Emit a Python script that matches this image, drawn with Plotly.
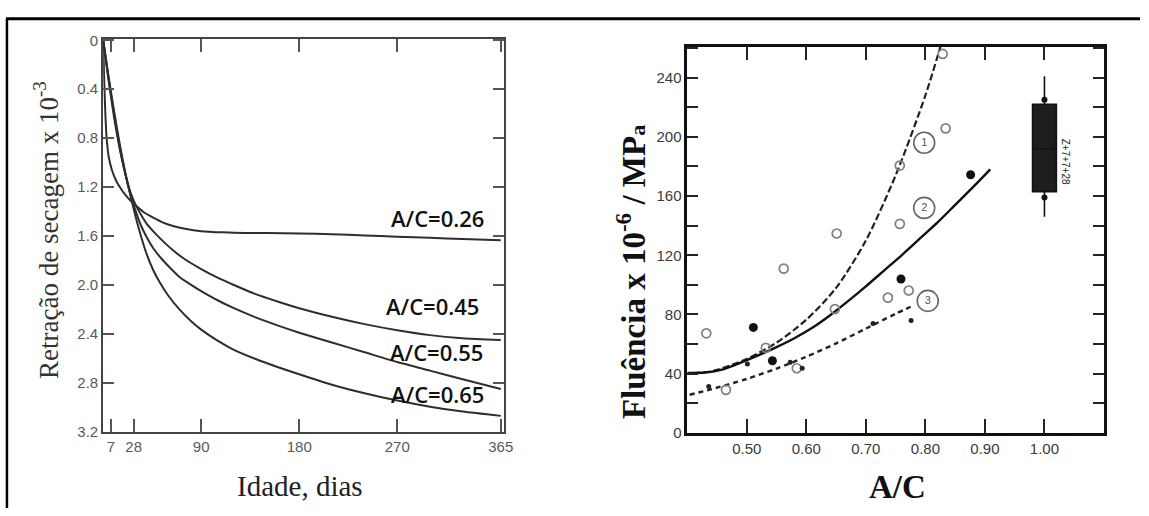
import plotly.graph_objects as go

W, H = 1149, 516

# ---- Left panel: drying shrinkage (x 10^-3) versus age (days) ----
dias_026 = [0, 1, 2, 3, 5, 8, 12, 16, 20, 25, 30, 38, 46, 55, 65, 75, 90, 110, 130, 150, 180, 210, 240, 270, 300, 330, 365]
retr_026 = [0, 0.35, 0.6, 0.78, 0.95, 1.06, 1.15, 1.21, 1.26, 1.31, 1.35, 1.41, 1.45, 1.49, 1.52, 1.54, 1.56,
            1.57, 1.575, 1.575, 1.58, 1.585, 1.595, 1.605, 1.615, 1.625, 1.635]

dias_045 = [0, 5, 10, 15, 20, 25, 30, 35, 40, 48, 57, 66, 75, 90, 105, 120, 140, 160, 180, 210, 240, 270, 300, 330, 365]
retr_045 = [0, 0.33, 0.63, 0.88, 1.08, 1.24, 1.35, 1.43, 1.5, 1.58, 1.66, 1.73, 1.79, 1.87, 1.94, 2.0, 2.075,
            2.135, 2.19, 2.26, 2.32, 2.37, 2.41, 2.435, 2.45]

dias_055 = [0, 5, 10, 15, 20, 25, 30, 35, 40, 46, 54, 62, 70, 80, 90, 105, 120, 140, 160, 180, 210, 240, 270, 300, 330, 365]
retr_055 = [0, 0.32, 0.6, 0.86, 1.08, 1.26, 1.4, 1.52, 1.61, 1.7, 1.79, 1.865, 1.935, 1.995, 2.05, 2.125, 2.19,
            2.265, 2.33, 2.39, 2.47, 2.55, 2.63, 2.7, 2.77, 2.85]

dias_065 = [0, 5, 10, 15, 20, 25, 30, 35, 40, 46, 52, 60, 70, 80, 90, 105, 120, 140, 160, 180, 210, 240, 270, 300, 330, 365]
retr_065 = [0, 0.3, 0.58, 0.84, 1.07, 1.27, 1.45, 1.61, 1.75, 1.88, 1.98, 2.09, 2.2, 2.29, 2.365, 2.455, 2.53,
            2.605, 2.67, 2.73, 2.815, 2.885, 2.945, 2.995, 3.035, 3.07]

rotulos_ac = ["A/C=0.26", "A/C=0.45", "A/C=0.55", "A/C=0.65"]
rotulo_dia = [307, 302, 306, 307]
rotulo_retr = [1.45, 2.17, 2.55, 2.89]

ticks_dias = [7, 28, 90, 180, 270, 365]
ticks_retr = [0, 0.4, 0.8, 1.2, 1.6, 2.0, 2.4, 2.8, 3.2]
ticks_retr_txt = ["0", "0.4", "0.8", "1.2", "1.6", "2.0", "2.4", "2.8", "3.2"]

# ---- Right panel: specific creep versus water/cement ratio ----
ac_tracejada = [0.41, 0.43, 0.45, 0.50, 0.55, 0.60, 0.65, 0.70, 0.75, 0.80, 0.826]
fl_tracejada = [40.5, 41, 42.6, 50, 61, 76.5, 98, 130, 174, 228, 262]

ac_continua = [0.40, 0.43, 0.46, 0.49, 0.52, 0.55, 0.58, 0.61, 0.64, 0.67, 0.70, 0.73, 0.76, 0.79, 0.82, 0.85, 0.88, 0.909]
fl_continua = [40.5, 40.8, 43, 47.5, 52.5, 58, 64, 71, 79.5, 89, 99, 109.5, 120, 131, 142, 154, 166, 178]

ac_pontilhada = [0.404, 0.44, 0.50, 0.55, 0.60, 0.65, 0.70, 0.75, 0.782]
fl_pontilhada = [25.8, 29.5, 36.5, 43.5, 51.5, 60.5, 70.5, 80.5, 86.5]

ac_abertos = [0.432, 0.562, 0.651, 0.648, 0.757, 0.757, 0.829, 0.834, 0.737, 0.772, 0.532, 0.465, 0.584]
fl_abertos = [67.3, 111, 134.7, 83.7, 141.2, 180.6, 256, 205.7, 91.4, 96.2, 57.5, 29.1, 43.7]

ac_cheios = [0.511, 0.543, 0.759, 0.876]
fl_cheios = [71.3, 48.8, 104, 174.4]

ac_pequenos = [0.436, 0.501, 0.573, 0.712, 0.776, 0.593]
fl_pequenos = [31.3, 46.6, 47.7, 73.9, 76, 43.7]

ac_numerados = [0.798, 0.798, 0.804]
fl_numerados = [196, 152, 89.2]
txt_numerados = ["1", "2", "3"]

# range bar at A/C = 1.00
faixa_ac = [1.00]
faixa_q1, faixa_med, faixa_q3 = [163], [192], [222]
faixa_min, faixa_max = [146], [241]
faixa_pontos = [159, 225]

ticks_ac = [0.5, 0.6, 0.7, 0.8, 0.9, 1.0]
ticks_ac_txt = ["0.50", "0.60", "0.70", "0.80", "0.90", "1.00"]
ticks_fl = [0, 40, 80, 120, 160, 200, 240]

fig = go.Figure()

curva = dict(color="#2e2e2e", width=2, shape="spline", smoothing=0.6)
for d, r in [(dias_026, retr_026), (dias_045, retr_045), (dias_055, retr_055), (dias_065, retr_065)]:
    fig.add_trace(go.Scatter(x=d, y=r, mode="lines", line=curva, xaxis="x", yaxis="y",
                             showlegend=False, hoverinfo="skip"))

fig.add_trace(go.Scatter(x=ac_tracejada, y=fl_tracejada, mode="lines", xaxis="x2", yaxis="y2",
                         line=dict(color="#222", width=2.2, dash="7px,3px", shape="spline", smoothing=0.8),
                         showlegend=False, hoverinfo="skip"))
fig.add_trace(go.Scatter(x=ac_continua, y=fl_continua, mode="lines", xaxis="x2", yaxis="y2",
                         line=dict(color="#111", width=2.4, shape="spline", smoothing=0.8),
                         showlegend=False, hoverinfo="skip"))
fig.add_trace(go.Scatter(x=ac_pontilhada, y=fl_pontilhada, mode="lines", xaxis="x2", yaxis="y2",
                         line=dict(color="#222", width=2.4, dash="5px,4px", shape="spline", smoothing=0.8),
                         showlegend=False, hoverinfo="skip"))
fig.add_trace(go.Scatter(x=ac_abertos, y=fl_abertos, mode="markers", xaxis="x2", yaxis="y2",
                         marker=dict(symbol="circle-open", size=9, color="#808080", line=dict(width=1.7)),
                         showlegend=False, hoverinfo="skip"))
fig.add_trace(go.Scatter(x=ac_cheios, y=fl_cheios, mode="markers", xaxis="x2", yaxis="y2",
                         marker=dict(symbol="circle", size=9, color="#111"),
                         showlegend=False, hoverinfo="skip"))
fig.add_trace(go.Scatter(x=ac_pequenos, y=fl_pequenos, mode="markers", xaxis="x2", yaxis="y2",
                         marker=dict(symbol="circle", size=5, color="#222"),
                         showlegend=False, hoverinfo="skip"))
fig.add_trace(go.Scatter(x=ac_numerados, y=fl_numerados, mode="markers+text", xaxis="x2", yaxis="y2",
                         text=txt_numerados, textposition="middle center",
                         textfont=dict(family="Liberation Sans", size=11, color="#555"),
                         marker=dict(symbol="circle-open", size=21, color="#666", line=dict(width=1.6)),
                         showlegend=False, hoverinfo="skip"))
fig.add_trace(go.Box(x=faixa_ac, q1=faixa_q1, median=faixa_med, q3=faixa_q3,
                     lowerfence=faixa_min, upperfence=faixa_max, width=0.04, whiskerwidth=0,
                     fillcolor="#1e1e1e", line=dict(color="#111", width=1.6), boxpoints=False,
                     xaxis="x2", yaxis="y2", showlegend=False, hoverinfo="skip"))
fig.add_trace(go.Scatter(x=faixa_ac * 2, y=faixa_pontos, mode="markers", xaxis="x2", yaxis="y2",
                         marker=dict(symbol="circle", size=6, color="#111"),
                         showlegend=False, hoverinfo="skip"))

tick_font_l = dict(family="Liberation Sans", size=15, color="#5a5a5a")
tick_font_r = dict(family="Liberation Sans", size=15, color="#3a3a3a")

fig.update_layout(
    width=W, height=H,
    margin=dict(l=0, r=0, t=0, b=0),
    paper_bgcolor="white", plot_bgcolor="white",
    xaxis=dict(domain=[104 / W, 508 / W], range=[0, 368], tickvals=ticks_dias,
               ticks="inside", ticklen=13, tickwidth=1.5, tickcolor="#555",
               showline=True, linecolor="#444", linewidth=2, mirror="ticks",
               showgrid=False, zeroline=False, tickfont=tick_font_l, anchor="y"),
    yaxis=dict(domain=[1 - 437.5 / H, 1 - 33 / H], range=[3.2, -0.01], tickvals=ticks_retr,
               ticktext=ticks_retr_txt, ticks="inside", ticklen=11, tickwidth=1.5, tickcolor="#555",
               showline=True, linecolor="#444", linewidth=2, mirror="ticks",
               showgrid=False, zeroline=False, tickfont=tick_font_l, anchor="x"),
    xaxis2=dict(domain=[692.7 / W, 1112.7 / W], range=[0.40, 1.10], tickvals=ticks_ac,
                ticktext=ticks_ac_txt, ticks="inside", ticklen=14, tickwidth=2, tickcolor="#222",
                showline=True, linecolor="#111", linewidth=2.5, mirror="ticks",
                showgrid=False, zeroline=False, tickfont=tick_font_r, anchor="y2"),
    yaxis2=dict(domain=[1 - 438.7 / H, 1 - 40.7 / H], range=[0, 261], tickvals=ticks_fl,
                ticks="inside", ticklen=11, tickwidth=2, tickcolor="#222",
                minor=dict(dtick=20, ticks="inside", ticklen=11, tickwidth=2, tickcolor="#222"),
                showline=True, linecolor="#111", linewidth=2.5, mirror="ticks",
                showgrid=False, zeroline=False, tickfont=tick_font_r, anchor="x2"),
)

annotations = []
for txt, d, r in zip(rotulos_ac, rotulo_dia, rotulo_retr):
    annotations.append(dict(x=d, y=r, xref="x", yref="y", text=txt, showarrow=False,
                            xanchor="center", yanchor="middle",
                            font=dict(family="Open Sans", size=22, color="#111", weight=600)))

serif = "Liberation Serif"
annotations += [
    dict(x=47 / W, y=1 - 230 / H, xref="paper", yref="paper", textangle=-90,
         text="Retração de secagem x 10<sup>-3</sup>", showarrow=False,
         xanchor="center", yanchor="middle", font=dict(family=serif, size=27, color="#333")),
    dict(x=302.5 / W, y=1 - 493 / H, xref="paper", yref="paper",
         text="Idade, dias", showarrow=False, xanchor="center", yanchor="middle",
         font=dict(family=serif, size=29, color="#222")),
    dict(x=636 / W, y=1 - 273 / H, xref="paper", yref="paper", textangle=-90,
         text="Fluência x 10<sup>-6</sup> / MP<span style='font-size:22px'>a</span>", showarrow=False,
         xanchor="center", yanchor="middle",
         font=dict(family=serif, size=33, color="#111", weight="bold")),
    dict(x=905 / W, y=1 - 494 / H, xref="paper", yref="paper",
         text="A/C", showarrow=False, xanchor="center", yanchor="middle",
         font=dict(family=serif, size=33, color="#111", weight="bold")),
    dict(x=1.035, y=183, xref="x2", yref="y2", textangle=90,
         text="Z+7+7+28", showarrow=False, xanchor="center", yanchor="middle",
         font=dict(family="Liberation Sans", size=10, color="#222")),
]
fig.update_layout(annotations=annotations)

# page border of the cell (top and left rules)
fig.update_layout(shapes=[
    dict(type="line", xref="paper", yref="paper", x0=6 / W, x1=1, y0=1 - 12 / H, y1=1 - 12 / H,
         line=dict(color="black", width=3)),
    dict(type="line", xref="paper", yref="paper", x0=7 / W, x1=7 / W, y0=0, y1=1 - 12 / H,
         line=dict(color="black", width=2.5)),
])

fig.write_html("out.html")
